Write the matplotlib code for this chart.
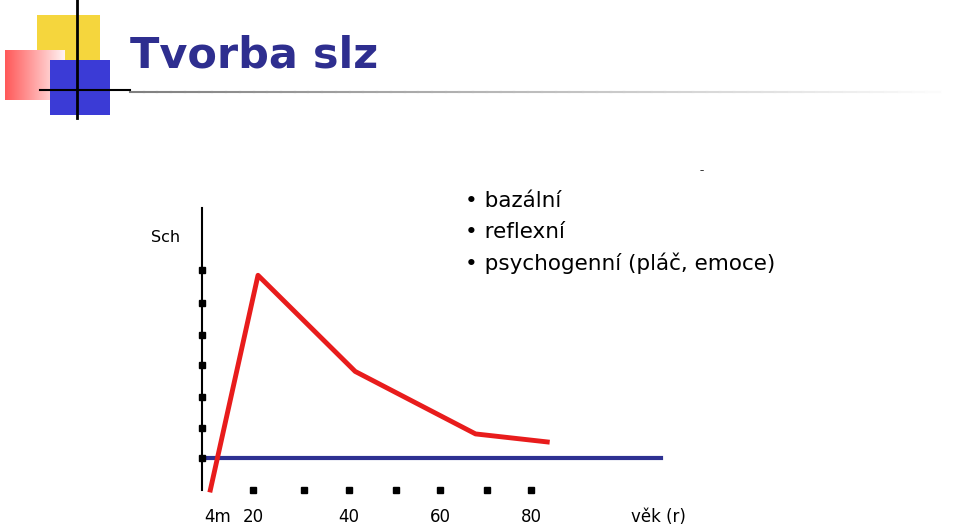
import matplotlib.pyplot as plt
from matplotlib.patches import Rectangle
from matplotlib.lines import Line2D
import numpy as np

W, H = 960, 530

# data (age in years, amount in arbitrary units)
red_age = [10.7, 21.0, 42.0, 68.0, 83.5]
red_val = [0.0, 6.7, 3.7, 1.75, 1.5]
blue_age = [9.0, 108.0]
blue_val = [1.0, 1.0]
xtick_pos = [20, 31.0, 40.6, 50.9, 60.4, 70.4, 80]
ytick_pos = [1.0, 1.95, 2.9, 3.9, 4.85, 5.85, 6.85]
xlabel_pos = [12.3, 20, 40.6, 60.4, 80]
xlabel_txt = ["4m", "20", "40", "60", "80"]
bullets = ["bazální", "reflexní", "psychogenní (pláč, emoce)"]

plt.rcParams["font.family"] = "DejaVu Sans"
fig = plt.figure(figsize=(W / 100, H / 100), dpi=100)


def fx(x):
    return x / W


def fy(y):
    return 1 - y / H


def rect(x0, y0, x1, y1, **kw):
    fig.add_artist(Rectangle((fx(x0), fy(y1)), fx(x1 - x0), (y1 - y0) / H,
                             transform=fig.transFigure, lw=0, **kw))


# corner decoration
rect(37, 15, 100, 80, color="#f5d63d")
grad = np.tile(np.linspace(0, 1, 60), (50, 1))
fig.figimage(np.dstack([np.ones((50, 60)), 0.35 + 0.6 * grad, 0.35 + 0.6 * grad]),
             xo=5, yo=H - 100, zorder=2)
rect(50, 60, 110, 115, color="#3b3bd6", zorder=3)
fig.add_artist(Line2D([fx(77), fx(77)], [fy(0), fy(118)], color="black", lw=2,
                      transform=fig.transFigure, zorder=4))
fig.add_artist(Line2D([fx(40), fx(130)], [fy(90), fy(90)], color="black", lw=1.5,
                      transform=fig.transFigure, zorder=4))
gx = np.linspace(130, 940, 60)
for i in range(len(gx) - 1):
    fig.add_artist(Line2D([fx(gx[i]), fx(gx[i + 1])], [fy(92), fy(92)], lw=1.5,
                          color=str(0.5 + 0.5 * i / len(gx)), transform=fig.transFigure))

fig.text(fx(130), fy(55), "Tvorba slz", fontsize=31, fontweight="bold",
         color="#2e2e8f", va="center")

for i, t in enumerate(bullets):
    fig.text(fx(465), fy(201 + 31 * i), "• " + t, fontsize=15.5, va="center")
fig.text(fx(151), fy(237), "Sch", fontsize=11.5, va="center")
fig.text(fx(700), fy(171), "–", fontsize=6, va="center")

ax = fig.add_axes([fx(202), 40 / H, fx(700 - 202), (490 - 208) / H])
ax.set_xlim(8.9, 116.5)
ax.set_ylim(0, 8.8)
for s in ["top", "right", "bottom"]:
    ax.spines[s].set_visible(False)
ax.spines["left"].set_linewidth(1.5)
ax.set_xticks([])
ax.set_yticks([])
ax.plot(blue_age, blue_val, color="#2e3192", lw=3, clip_on=False)
ax.plot(red_age, red_val, color="#e81c1c", lw=3.5, clip_on=False)
ax.plot(xtick_pos, [0] * len(xtick_pos), "s", color="black", ms=4, clip_on=False)
ax.plot([8.9] * len(ytick_pos), ytick_pos, "s", color="black", ms=4, clip_on=False)
for p, t in zip(xlabel_pos, xlabel_txt):
    ax.text(p, -0.85, t, ha="center", va="center", fontsize=12)
ax.text(107.5, -0.85, "věk (r)", ha="center", va="center", fontsize=12)

fig.savefig("out.png", dpi=100)
